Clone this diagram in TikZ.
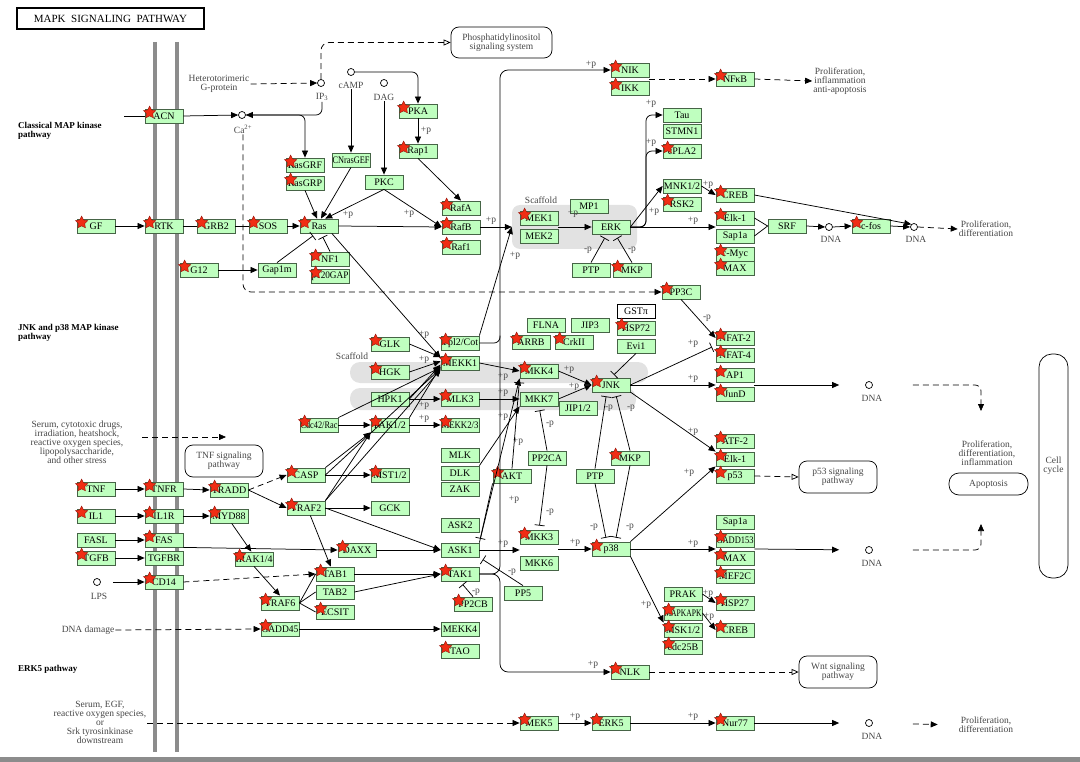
\documentclass[tikz,border=0pt]{standalone}
\usepackage{fontspec}
\usepackage{graphicx}
\setmainfont{Liberation Serif}
\usetikzlibrary{arrows.meta,shapes.geometric,calc}

\definecolor{geneFill}{RGB}{191,255,191}
\definecolor{geneLine}{RGB}{70,100,70}
\definecolor{noteGray}{RGB}{70,70,70}
\definecolor{memGray}{RGB}{140,140,140}
\definecolor{scafGray}{RGB}{226,226,226}
\definecolor{starRed}{RGB}{240,45,20}
\definecolor{starEdge}{RGB}{150,20,10}

\newlength\gw
\newcommand\gfit[1]{\settowidth\gw{#1}\ifdim\gw>37pt\pgfmathsetmacro\gsc{37pt/\gw}\scalebox{\gsc}[1]{#1}\else#1\fi}
\newcommand\gene[3]{\node[gbox] (#1) at (#2) {\gfit{#3}};}
\newcommand\sgene[3]{\gene{#1}{#2}{#3}
  \node[kstar] (#1-st) at ([shift={(5,4)}]#1.north west) {};}
\newcounter{pn}
\newcommand\ptag[2]{\stepcounter{pn}\node[ptxt] (tag\thepn) at (#1) {#2};}

\tikzset{
  gbox/.style={draw=geneLine, fill=geneFill, line width=0.8pt, minimum width=38pt,
    minimum height=14pt, inner sep=0pt, font=\fontsize{10}{10}\selectfont},
  kstar/.style={star, star points=5, star point ratio=2, minimum size=13pt, inner sep=0pt,
    fill=starRed, draw=starEdge, line width=0.4pt},
  ptxt/.style={text=noteGray, font=\fontsize{9.5}{9.5}\selectfont, inner sep=0pt},
  note/.style={text=noteGray, font=\fontsize{9.5}{9}\selectfont, align=center, inner sep=1pt},
  head/.style={font=\bfseries\fontsize{9}{9.5}\selectfont, align=left, anchor=west, inner sep=0pt},
  dot/.style={circle, draw=black, line width=0.7pt, minimum size=7pt, inner sep=0pt},
  pwbox/.style={draw, rounded corners=8pt, line width=0.7pt, align=center, inner sep=0pt,
    text=noteGray, font=\fontsize{9.5}{9}\selectfont},
  scaf/.style={fill=scafGray, inner sep=0pt},
  act/.style={-{Triangle[length=7pt,width=6pt]}, line width=0.75pt},
  opn/.style={-{Triangle[open,length=7pt,width=6pt]}, line width=0.75pt},
  inh/.style={-{Bar[width=10pt]}, line width=0.75pt, shorten >=4pt},
  dsh/.style={dash pattern=on 6pt off 4pt, line width=0.75pt}
}

\begin{document}
\begin{tikzpicture}[x=1pt,y=-1pt]
\useasboundingbox (0,0) rectangle (1080,762);

% membrane, scaffolds
\draw[memGray, line width=3.5pt] (155,42) -- (155,752);
\draw[memGray, line width=3.5pt] (177,42) -- (177,752);
\fill[memGray] (0,757) rectangle (1080,762);
\node[scaf, rounded corners=8pt, minimum width=125pt, minimum height=44pt] (scafE) at (574.5,227) {};
\node[scaf, rounded corners=10pt, minimum width=298pt, minimum height=21pt] (scafJ1) at (499,372.5) {};
\node[scaf, rounded corners=10pt, minimum width=286pt, minimum height=22pt] (scafJ2) at (493,399) {};
\node[note] (scafElbl) at (541,200) {Scaffold};
\node[note] (scafJlbl) at (352,356) {Scaffold};

\node[draw, line width=1.2pt, minimum width=187pt, minimum height=21pt, inner sep=0pt,
  font=\fontsize{11}{11}\selectfont] (title) at (110.5,18.5) {MAPK\ \ SIGNALING\ \ PATHWAY};
\node[head] (hClassic) at (18,131) {Classical MAP kinase\\pathway};
\node[head] (hJnk) at (18,333) {JNK and p38 MAP kinase\\pathway};
\node[head] (hErk5) at (18,669) {ERK5 pathway};

% notes and pathway boxes
\node[note] (hetero) at (219,84) {Heterotorimeric\\G-protein};
\node[note] (serum1) at (77,442) {Serum, cytotoxic drugs,\\irradiation, heatshock,\\reactive oxygen species,\\lipopolysaccharide,\\and other stress};
\node[note] (serum2) at (100,722) {Serum, EGF,\\reactive oxygen species,\\or\\Srk tyrosinkinase\\downstream};
\node[note] (dnadmg) at (88,630) {DNA damage};
\node[note] (profA) at (840,81) {Proliferation,\\inflammation\\anti-apoptosis};
\node[note] (profB) at (986,229) {Proliferation,\\differentiation};
\node[note] (profC) at (987,453) {Proliferation,\\differentiation,\\inflammation};
\node[note] (profD) at (986,725) {Proliferation,\\differentiation};
\node[pwbox, minimum width=101pt, minimum height=31pt] (pi) at (501.5,42.5) {Phosphatidylinositol\\signaling system};
\node[pwbox, minimum width=78pt, minimum height=32pt] (tnfsig) at (224,461) {TNF signaling\\pathway};
\node[pwbox, minimum width=78pt, minimum height=32pt] (p53sig) at (838,477) {p53 signaling\\pathway};
\node[pwbox, minimum width=78pt, minimum height=32pt] (wnt) at (838,672) {Wnt signaling\\pathway};
\node[pwbox, minimum width=79pt, minimum height=22pt, rounded corners=10pt] (apop) at (988.5,484) {Apoptosis};
\node[pwbox, minimum width=29pt, minimum height=224pt, rounded corners=13pt] (cellcyc) at (1053.5,466) {Cell\\cycle};

% small molecules
\node[dot] (ip3) at (321,83) {};
\node[note] (ip3lbl) at (322,97) {IP\textsubscript{3}};
\node[dot] (camp) at (351,72) {};
\node[note] (camplbl) at (351,85) {cAMP};
\node[dot] (dag) at (384,83) {};
\node[note] (daglbl) at (384,97) {DAG};
\node[dot] (ca) at (242,115) {};
\node[note] (calbl) at (243,129) {Ca\textsuperscript{2+}};
\node[dot] (lps) at (97,582) {};
\node[note] (lpslbl) at (99,596) {LPS};
\node[dot] (dnaA) at (829,227) {};
\node[note] (dnaAl) at (831,239) {DNA};
\node[dot] (dnaB) at (914,227) {};
\node[note] (dnaBl) at (916,239) {DNA};
\node[dot] (dnaC) at (869,385) {};
\node[note] (dnaCl) at (872,398) {DNA};
\node[dot] (dnaD) at (869,550) {};
\node[note] (dnaDl) at (872,563) {DNA};
\node[dot] (dnaE) at (869,723) {};
\node[note] (dnaEl) at (872,736) {DNA};

% classical MAP kinase
\sgene{acn}{164,116}{ACN}
\sgene{gf}{96,226}{GF}
\sgene{rtk}{164,226}{RTK}
\sgene{grb2}{216,226}{GRB2}
\sgene{sos}{268,226}{SOS}
\sgene{ras}{319,226}{Ras}
\sgene{rasgrf}{305,165}{RasGRF}
\sgene{rasgrp}{305,183}{RasGRP}
\gene{cnrasgef}{351,160}{CNrasGEF}
\gene{pkc}{384,182}{PKC}
\sgene{pka}{418,111}{PKA}
\sgene{rap1}{418,151}{Rap1}
\sgene{rafa}{461,208}{RafA}
\sgene{rafb}{461,227}{RafB}
\sgene{raf1}{461,247}{Raf1}
\sgene{mek1}{539,218}{MEK1}
\gene{mek2}{539,236}{MEK2}
\gene{mp1}{589,206}{MP1}
\gene{erk}{611,227}{ERK}
\gene{ptpE}{591,270}{PTP}
\sgene{mkpE}{632,270}{MKP}
\sgene{nik}{630,70}{NIK}
\sgene{ikk}{630,88}{IKK}
\gene{tau}{682,115}{Tau}
\gene{stmn1}{682,131}{STMN1}
\sgene{cpla2}{682,151}{cPLA2}
\gene{mnk}{682,186}{MNK1/2}
\sgene{rsk2}{682,204}{RSK2}
\sgene{nfkb}{735,79}{NF\kern-0.5ptκB}
\sgene{creb}{735,195}{CREB}
\sgene{elk1}{735,218}{Elk-1}
\gene{sap1a}{735,236}{Sap1a}
\sgene{cmyc}{735,254}{c-Myc}
\sgene{max}{735,268}{MAX}
\gene{srf}{787,226}{SRF}
\sgene{cfos}{871,226}{c-fos}
\sgene{g12}{199,270}{G12}
\gene{gap1m}{277,270}{Gap1m}
\sgene{nf1}{330,259}{NF1}
\sgene{pgap}{330,276}{p120GAP}
\sgene{pp3c}{681,292}{PP3C}

% JNK and p38
\sgene{glk}{390,344}{GLK}
\sgene{hgk}{390,372}{HGK}
\gene{hpk1}{390,399}{HPK1}
\sgene{pak}{390,425}{PAK1/2}
\sgene{mst}{390,475}{MST1/2}
\gene{gck}{390,508}{GCK}
\sgene{cdc42}{319,425}{Cdc42/Rac}
\sgene{tpl2}{460,343}{Tpl2/Cot}
\sgene{mekk1}{460,363}{MEKK1}
\sgene{mlk3}{460,399}{MLK3}
\sgene{mekk23}{460,425}{MEKK2/3}
\gene{mlk}{460,455}{MLK}
\gene{dlk}{460,473}{DLK}
\gene{zak}{460,489}{ZAK}
\gene{ask2}{460,525}{ASK2}
\gene{ask1}{460,550}{ASK1}
\sgene{tak1}{460,574}{TAK1}
\sgene{pp2cb}{473,604}{PP2CB}
\gene{mekk4}{460,629}{MEKK4}
\sgene{tao}{460,651}{TAO}
\gene{flna}{546,325}{FLNA}
\gene{jip3}{590,325}{JIP3}
\sgene{arrb}{531,342}{ARRB}
\sgene{crkii}{574,342}{CrkII}
\node[gbox, fill=white, draw=black] (gstp) at (636,311) {GSTπ};
\sgene{hsp72}{636,328}{HSP72}
\gene{evi1}{636,346}{Evi1}
\sgene{mkk4}{539,371}{MKK4}
\gene{mkk7}{539,399}{MKK7}
\gene{jip12}{578,408}{JIP1/2}
\sgene{jnk}{611,385}{JNK}
\gene{pp2ca}{547,458}{PP2CA}
\sgene{akt}{512,476}{AKT}
\gene{ptpJ}{595,476}{PTP}
\sgene{mkpJ}{630,458}{MKP}
\sgene{mkk3}{539,537}{MKK3}
\gene{mkk6}{539,563}{MKK6}
\sgene{p38}{611,549}{p38}
\gene{pp5}{523,593}{PP5}
\sgene{nfat2}{735,338}{NFAT-2}
\sgene{nfat4}{735,355}{NFAT-4}
\sgene{ap1}{735,375}{AP1}
\sgene{jund}{735,394}{JunD}
\sgene{atf2}{735,441}{ATF-2}
\sgene{elk1b}{735,459}{Elk-1}
\sgene{p53}{735,476}{p53}
\gene{prak}{683,594}{PRAK}
\sgene{mapkapk}{683,613}{MAPKAPK}
\sgene{msk}{683,630}{MSK1/2}
\sgene{cdc25b}{683,647}{cdc25B}
\gene{sap1b}{735,522}{Sap1a}
\sgene{gadd153}{735,540}{GADD153}
\sgene{maxb}{735,558}{MAX}
\sgene{mef2c}{735,576}{MEF2C}
\sgene{hsp27}{735,603}{HSP27}
\sgene{crebb}{735,630}{CREB}
\sgene{nlk}{630,672}{NLK}
\sgene{mek5}{539,723}{MEK5}
\sgene{erk5}{611,723}{ERK5}
\sgene{nur77}{735,723}{Nur77}

% receptors
\sgene{tnf}{96,489}{TNF}
\sgene{tnfr}{164,489}{TNFR}
\sgene{tradd}{229,490}{TRADD}
\sgene{casp}{306,475}{CASP}
\sgene{traf2}{306,508}{TRAF2}
\sgene{il1}{96,516}{IL1}
\sgene{il1r}{164,516}{IL1R}
\sgene{myd88}{229,516}{MYD88}
\gene{fasl}{96,540}{FASL}
\sgene{fas}{164,540}{FAS}
\sgene{tgfb}{96,558}{TGFB}
\gene{tgfbr}{164,558}{TGFBR}
\sgene{cd14}{164,582}{CD14}
\sgene{irak}{254,559}{IRAK1/4}
\sgene{daxx}{357,550}{DAXX}
\sgene{tab1}{335,574}{TAB1}
\gene{tab2}{335,592}{TAB2}
\sgene{traf6}{280,603}{TRAF6}
\sgene{ecsit}{335,612}{ECSIT}
\sgene{gadd45}{280,629}{GADD45}

% classical connectors
\coordinate (acnIn) at (124,116);
\draw[line width=0.75pt] (acnIn) -- (acn.west);
\draw[act] (acn.east) -- (ca.west);
\draw[act,dsh] (hetero.east) -- (ip3.west);
\draw[opn,dsh,rounded corners=8pt] (ip3.north) |- (pi.west);
\draw[act,rounded corners=6pt] (ip3lbl.south) |- (ca.east);
\draw[act,rounded corners=6pt] (ca.east) -| (rasgrf.north);
\draw[act] (camplbl.south) -- (cnrasgef.north);
\draw[act,rounded corners=6pt] (camp.east) -| (pka.north);
\draw[act] (daglbl.south) -- (pkc.north);
\draw[act] (pka.south) -- (rap1.north); \ptag{426,131}{+p}
\draw[act] (rap1.south) -- (rafa.north);
\draw[act] (rasgrp.south) -- (ras.105);
\draw[act] (cnrasgef.south) -- (ras.75);
\draw[act] (pkc.south) -- (ras.50); \ptag{348,215}{+p}
\draw[act] (pkc.south) -- (rafb.west); \ptag{409,214}{+p}
\draw[act] (ras.east) -- (rafb.west);
\draw[act] (gf.east) -- (rtk.west);
\draw[line width=0.75pt] (rtk.east) -- (grb2.west);
\draw[line width=0.75pt] (grb2.east) -- (sos.west);
\draw[act] (sos.east) -- (ras.west);
\draw[act] (rafb.east) -- (scafE.west); \ptag{491,221}{+p}
\draw[act] (mek1.east |- erk.west) -- (erk.west); \ptag{573,214}{+p}
\draw[inh] (ptpE.north) -- (erk.-120); \ptag{588,250}{-p}
\draw[inh] (mkpE.north) -- (erk.-60); \ptag{632,250}{-p}
\draw[act,rounded corners=6pt] (erk.east) -| (646,200) |- (tau.west); \ptag{651,104}{+p}
\draw[act,rounded corners=6pt] (erk.east) -| (646,200) |- (cpla2.west); \ptag{651,143}{+p}
\draw[act] (erk.east) -- (mnk.west); \ptag{654,212}{+p}
\draw[act] (erk.east) -- (erk.east -| elk1.west); \ptag{693,221}{+p}
\draw[act] (mnk.east) -- (creb.west); \ptag{708,185}{+p}
\draw[act] (creb.east) -- (dnaB.north west);
\draw[line width=0.75pt] (elk1.east) -- (srf.west);
\draw[line width=0.75pt] (sap1a.east) -- (srf.west);
\draw[act] (srf.east) -- (dnaA.west);
\draw[act] (dnaA.east) -- (cfos.west);
\draw[act] (cfos.east) -- (dnaB.west);
\draw[act,dsh] (dnaB.east) -- (profB.west);
\draw[act,dsh] (nik.east |- nfkb.west) -- (nfkb.west);
\draw[act,dsh] (nfkb.east) -- (profA.west);
\draw[act] (g12.east) -- (gap1m.west);
\draw[inh] (gap1m.north) -- (ras.-110);
\draw[inh] (nf1.north) -- (ras.-75);
\draw[act] (ras.-30) -- (mekk1.165);
\draw[act,dsh,rounded corners=8pt] (calbl.south) |- (pp3c.west);

% long bus to NIK and NLK
\coordinate (vbus) at (500,400);
\draw[act,rounded corners=8pt] (tak1.east) -| (vbus |- nik.west) -- (nik.west); \ptag{591,65}{+p}
\draw[act,rounded corners=8pt] (tak1.east) -| (vbus |- nlk.west) -- (nlk.west); \ptag{593,665}{+p}
\draw[line width=0.75pt,rounded corners=6pt] (tpl2.east) -| (vbus |- tpl2.north);
\draw[act] (tpl2.north east) -- (scafE.west); \ptag{515,256}{+p}

% JNK connectors
\draw[act] (glk.east) -- (mekk1.163); \ptag{424,335}{+p}
\draw[act] (hgk.east) -- (mekk1.175); \ptag{424,360}{+p}
\draw[act] (hpk1.east) -- (mekk1.185);
\draw[act] (hpk1.east) -- (mlk3.west); \ptag{424,406}{+p}
\draw[act] (pak.north east) -- (mekk1.190);
\draw[act] (pak.east) -- (mekk23.west); \ptag{424,419}{+p}
\draw[act] (cdc42.east) -- (pak.west);
\draw[act] (cdc42.north east) -- (mekk1.193);
\draw[act] (casp.north east) -- (pak.south west);
\draw[act] (casp.east) -- (mekk1.196);
\draw[act] (casp.east) -- (mst.west);
\draw[act] (traf2.north east) -- (pak.south west);
\draw[act] (traf2.north east) -- (mekk1.199);
\draw[act] (traf2.east) -- (gck.west);
\draw[act] (traf2.east) -- (ask1.west);
\draw[act] (traf2.-60) -- (tab1.120);
\draw[act] (mekk1.east) -- (mkk4.west); \ptag{503,377}{+p}
\draw[act] (mlk3.east) -- (mkk7.west); \ptag{503,393}{+p}
\draw[act] (mkk4.east) -- (jnk.west); \ptag{569,370}{+p}
\draw[act] (mkk7.east) -- (jnk.west); \ptag{574,387}{+p}
\draw[act] (dlk.north east) -- (mkk7.south west); \ptag{503,417}{+p}
\draw[act] (ask1.north east) -- (mkk4.south west); \ptag{518,442}{+p}
\draw[inh] (akt.north) -- (mkk4.south west);
\draw[inh] (akt.south west) -- (ask1.north east); \ptag{514,500}{+p}
\draw[act] (ask1.east) -- (ask1.east -| mkk3.west); \ptag{503,544}{+p}
\draw[act] (mkk3.east |- p38.west) -- (p38.west); \ptag{575,543}{+p}
\draw[inh] (pp2ca.north) -- (mkk7.south); \ptag{550,424}{-p}
\draw[inh] (pp2ca.south) -- (mkk3.north); \ptag{550,512}{-p}
\draw[inh] (ptpJ.north) -- (jnk.-120); \ptag{609,408}{-p}
\draw[inh] (mkpJ.north) -- (jnk.-60); \ptag{631,408}{-p}
\draw[inh] (ptpJ.south) -- (p38.120); \ptag{594,527}{-p}
\draw[inh] (mkpJ.south) -- (p38.60); \ptag{630,527}{-p}
\draw[inh] (evi1.south) -- (jnk.north);
\draw[inh] (jnk.east) -- (nfat2.south west); \ptag{693,344}{+p}
\draw[act] (pp3c.south) -- (nfat2.west); \ptag{707,318}{-p}
\draw[act] (jnk.east) -- (jnk.east -| ap1.west); \ptag{693,379}{+p}
\draw[act] (jnk.-20) -- (elk1b.north west); \ptag{693,432}{+p}
\draw[act] (p38.north east) -- (elk1b.south west); \ptag{689,473}{+p}
\draw[act] (p38.east) -- (p38.east -| gadd153.west); \ptag{693,544}{+p}
\draw[act] (p38.south east) -- (msk.north west); \ptag{646,605}{+p}
\draw[act] (prak.east) -- (hsp27.west); \ptag{708,594}{+p}
\draw[act] (mapkapk.east) -- (crebb.west); \ptag{709,617}{+p}

% outputs
\coordinate (apopIn) at (981,411);
\coordinate (apopIn2) at (981,524);
\draw[act,shorten >=26pt] (ap1.east |- jnk.east) -- (dnaC.west);
\draw[act,dsh,rounded corners=6pt,shorten <=40pt] (dnaC.east) -| (apopIn);
\draw[opn,dsh] (p53.east) -- (p53sig.west);
\draw[act,shorten >=26pt] (gadd153.east |- p38.east) -- (dnaD.west);
\draw[act,dsh,rounded corners=6pt,shorten <=40pt] (dnaD.east) -| (apopIn2);
\draw[opn,dsh] (nlk.east) -- (wnt.west);
\draw[act] (mek5.east) -- (erk5.west); \ptag{575,717}{+p}
\draw[act] (erk5.east) -- (nur77.west); \ptag{693,717}{+p}
\draw[act,shorten >=26pt] (nur77.east) -- (dnaE.west);
\draw[act,dsh,shorten <=40pt,shorten >=20pt] (dnaE.east) -- (profD.west);
\draw[act,dsh] (serum2.east |- mek5.west) -- (mek5.west);
\coordinate (stressEnd) at (226,437);
\draw[act,dsh,shorten <=18pt] (serum1.east |- stressEnd) -- (stressEnd);

% receptor connectors
\draw[act] (tnf.east) -- (tnfr.west);
\draw[act] (tnfr.east) -- (tradd.west);
\draw[act,dsh] (tradd.east) -- (casp.west);
\draw[act] (tradd.east) -- (traf2.west);
\draw[act] (il1.east) -- (il1r.west);
\draw[act] (il1r.east) -- (myd88.west);
\draw[act] (myd88.-70) -- (irak.110);
\draw[act] (irak.south) -- (traf6.north);
\draw[line width=0.75pt] (traf6.east) -- (tab1.west);
\draw[line width=0.75pt] (traf6.east) -- (tab2.west);
\draw[line width=0.75pt] (traf6.east) -- (ecsit.west);
\draw[act] (fasl.east) -- (fas.west);
\draw[act] (fas.south east) -- (daxx.west);
\draw[act] (tgfb.east) -- (tgfbr.west);
\draw[act,shorten <=12pt] (lps.east) -- (cd14.west);
\draw[act,dsh] (cd14.east) -- (tab1.west);
\draw[act,dsh] (dnadmg.east) -- (gadd45.west);
\draw[act] (gadd45.east) -- (mekk4.west);
\draw[act] (daxx.east) -- (ask1.west);
\draw[act] (tab1.east) -- (tak1.west);
\draw[act] (tab2.east) -- (tak1.west);
\draw[inh] (pp2cb.north) -- (tak1.south); \ptag{476,592}{-p}
\draw[inh] (pp5.north) -- (ask1.south east); \ptag{512,572}{-p}
\end{tikzpicture}
\end{document}
